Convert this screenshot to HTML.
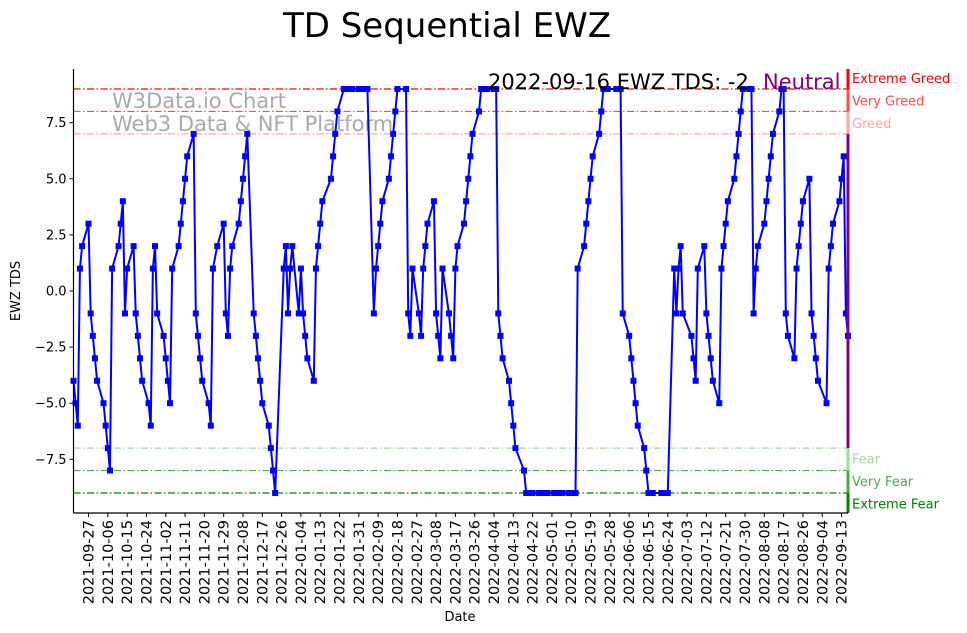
<!DOCTYPE html>
<html><head><meta charset="utf-8"><style>
html,body{margin:0;padding:0;background:#fff;width:967px;height:633px;overflow:hidden}
svg text{font-family:"DejaVu Sans","Liberation Sans",sans-serif}
</style></head><body>
<svg id="chart" width="967" height="633" viewBox="0 0 967 633" xmlns="http://www.w3.org/2000/svg">
<text x="447" y="37" font-size="34" text-anchor="middle" fill="#000">TD Sequential EWZ</text>
<g id="grid"></g>
<g id="watermark">
<text x="112" y="108" font-size="21" fill="#aaaaaa">W3Data.io Chart</text>
<text x="112" y="131" font-size="21" fill="#aaaaaa">Web3 Data &amp; NFT Platform</text>
</g>
<g id="series"></g>
<g id="axes"></g>
<text x="488" y="89" font-size="21" fill="#000">2022-09-16 EWZ TDS: -2</text>
<text x="763" y="89" font-size="21" fill="#800080">Neutral</text>
<text x="460" y="621" font-size="13" text-anchor="middle">Date</text>
<text x="0" y="0" font-size="13" text-anchor="middle" transform="translate(20,291) rotate(-90)">EWZ TDS</text>
</svg>
<script>
const startDate = '2021-09-20';
const endDate = '2022-09-16';
const holidays = ['2021-11-25','2021-12-24','2022-01-17','2022-02-21','2022-04-15','2022-05-30','2022-06-20','2022-07-04','2022-09-05'];
const tdsValues = [
-4,-5,-6,1,2, 3,-1,-2,-3,-4, -5,-6,-7,-8,1, 2,3,4,-1,1, 2,-1,-2,-3,-4,
-5,-6,1,2,-1, -2,-3,-4,-5,1, 2,3,4,5,6, 7,-1,-2,-3,-4, -5,-6,1,2,
3,-1,-2,1,2, 3,4,5,6,7, -1,-2,-3,-4,-5, -6,-7,-8,-9, 1,2,-1,1,2,
-1,1,-1,-2,-3, -4,1,2,3,4, 5,6,7,8, 9,9,9,9,9, 9,9,9,9,9,
-1,1,2,3,4, 5,6,7,8,9, 9,-1,-2,1, -1,-2,1,2,3, 4,-1,-2,-3,1,
-1,-2,-3,1,2, 3,4,5,6,7, 8,9,9,9,9, 9,9,-1,-2,-3, -4,-5,-6,-7,
-8,-9,-9,-9,-9, -9,-9,-9,-9,-9, -9,-9,-9,-9,-9, -9,-9,-9,-9,1,
2,3,4,5,6, 7,8,9,9,9, 9,9,9,-1, -2,-3,-4,-5,-6, -7,-8,-9,-9,-9,
-9,-9,-9,-9, 1,-1,1,2,-1, -2,-3,-4,1, 2,-1,-2,-3,-4, -5,1,2,3,4,
5,6,7,8,9, 9,9,-1,1,2, 3,4,5,6,7, 8,9,9,-1,-2, -3,1,2,3,4,
5,-1,-2,-3,-4, -5,1,2,3, 4,5,6,-1,-2];
const yTickValues = [-7.5,-5,-2.5,0,2.5,5,7.5];
const yTickLabels = ['−7.5','−5.0','−2.5','0.0','2.5','5.0','7.5'];
const levelValues = [9,8,7,-7,-8,-9];
const levelNames = ['Extreme Greed','Very Greed','Greed','Fear','Very Fear','Extreme Fear'];
const levelColors = ['#ff0000','#ff4d4d','#ffa6a6','#a6d9a6','#4daa4d','#008000'];
const xTickStart = '2021-09-27';
const xTickStepDays = 9;
const xTickCount = 40;

const NS='http://www.w3.org/2000/svg';
const L=73.5,R=848,T=69,B=513;
const DAY=86400000;
const t0=Date.parse(startDate), t1=Date.parse(endDate);
function xScale(t){return L+(t-t0)/(t1-t0)*(R-L);}
function yScale(v){return 291-v*22.444;}
function mk(tag,attrs,parent){const e=document.createElementNS(NS,tag);for(const k in attrs)e.setAttribute(k,attrs[k]);parent.appendChild(e);return e;}

const dates=[];
for(let t=t0;t<=t1;t+=DAY){const d=new Date(t);const wd=d.getUTCDay();const s=d.toISOString().slice(0,10);if(wd>0&&wd<6&&holidays.indexOf(s)<0)dates.push(t);}

const grid=document.getElementById('grid');
const axes=document.getElementById('axes');
const series=document.getElementById('series');

levelValues.forEach((v,i)=>{
  const ln=mk('line',{x1:L,x2:R,y1:yScale(v),y2:yScale(v),stroke:levelColors[i],'stroke-width':1.2,'stroke-dasharray':'7,2.5,1.5,2.5'},grid);
  
  
  const tx=mk('text',{x:852,y:yScale(v)+(v>0?-10.5:11)+4.5,'font-size':13,fill:levelColors[i]},grid);
  tx.textContent=levelNames[i];
  
  
});
const barSegs=[[T,yScale(9),'#ff0000'],[yScale(9),yScale(8),'#ff4d4d'],[yScale(8),yScale(7),'#ffa6a6'],[yScale(7),yScale(-7),'#800080'],[yScale(-7),yScale(-8),'#a6d9a6'],[yScale(-8),yScale(-9),'#4daa4d'],[yScale(-9),B,'#008000']];
barSegs.forEach(s=>{
  const r=mk('rect',{x:R-1.5,y:s[0],width:3,height:s[1]-s[0],fill:s[2]},axes);
  
  
});

let d='';
tdsValues.forEach((v,i)=>{if(i<dates.length)d+=(i?'L':'M')+xScale(dates[i]).toFixed(2)+','+yScale(v).toFixed(2);});
const path=mk('path',{d:d,fill:'none',stroke:'#0000ff','stroke-width':2},series);


tdsValues.forEach((v,i)=>{
  if(i>=dates.length)return;
  const m=mk('rect',{x:xScale(dates[i])-3,y:yScale(v)-3,width:6,height:6,fill:'#0000ff'},series);
  
  
});

const ls=mk('line',{x1:L,x2:L,y1:T,y2:B,stroke:'#000','stroke-width':1.2},axes);


const bs=mk('line',{x1:L,x2:R,y1:B,y2:B,stroke:'#000','stroke-width':1.2},axes);



yTickValues.forEach((v,i)=>{
  const y=yScale(v);
  const tk=mk('line',{x1:L-4,x2:L,y1:y,y2:y,stroke:'#000','stroke-width':1},axes);
  
  
  const tx=mk('text',{x:L-7,y:y+4.5,'font-size':13,'text-anchor':'end'},axes);
  tx.textContent=yTickLabels[i];
  
  
});
const xt0=Date.parse(xTickStart);
for(let k=0;k<xTickCount;k++){
  const t=xt0+k*xTickStepDays*DAY;
  if(t>t1)break;
  const x=xScale(t);
  const tk=mk('line',{x1:x,x2:x,y1:B,y2:B+4,stroke:'#000','stroke-width':1},axes);
  
  
  const tx=mk('text',{x:0,y:0,'font-size':14.5,'text-anchor':'end',transform:'translate('+(x+5)+','+(B+7)+') rotate(-90)'},axes);
  tx.textContent=new Date(t).toISOString().slice(0,10);
  
  
}
</script>
</body></html>
